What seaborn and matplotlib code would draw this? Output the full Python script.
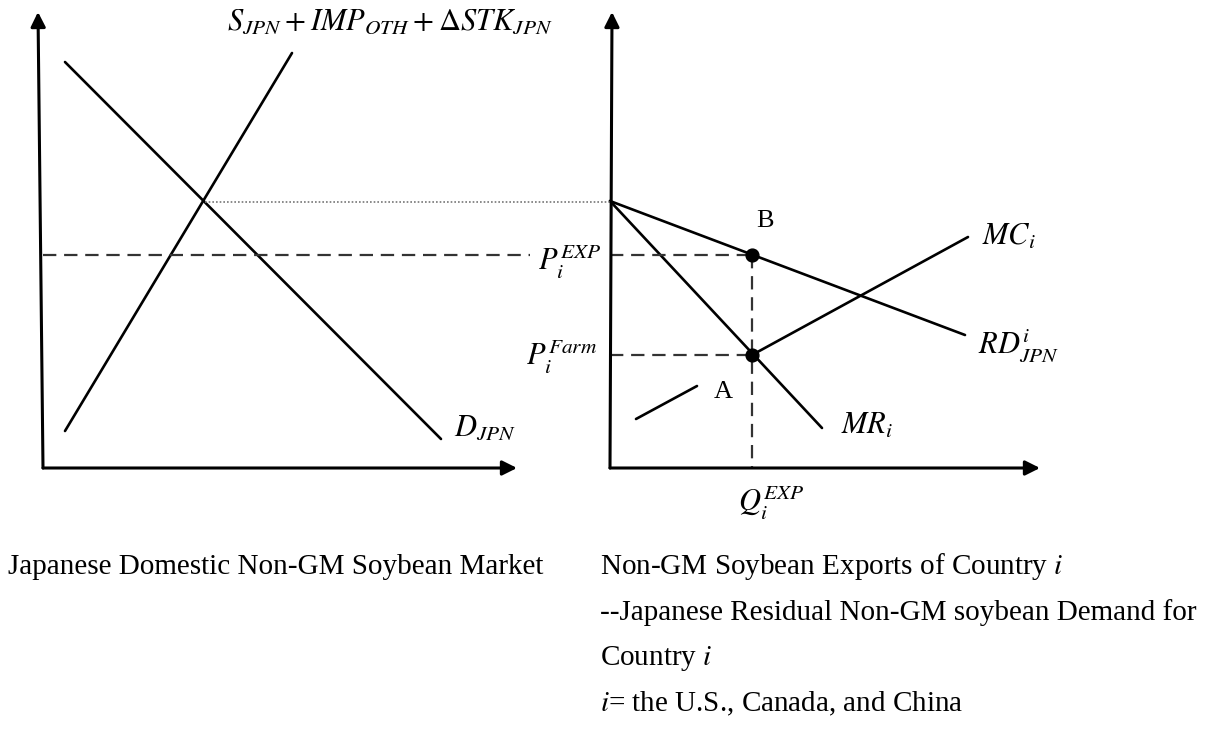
import matplotlib
matplotlib.use('Agg')
import matplotlib.pyplot as plt
import seaborn as sns

# diagram geometry (figure pixel space, y grows downward)
left_origin = (43, 468)
left_y_tip = (38, 12)
left_x_tip = (517, 468)
right_origin = (610, 468)
right_y_tip = (612, 12)
right_x_tip = (1040, 468)

demand_x = [65, 441]
demand_y = [62, 439]
supply_x = [65, 292]
supply_y = [431, 53]
rd_x = [610, 965]
rd_y = [201, 335]
mr_x = [610, 822]
mr_y = [201, 428]
mc_x = [752, 968]
mc_y = [355, 237]
pointer_x = [636, 697]
pointer_y = [419, 386]

eq_point = (205, 202)
p_exp = 255
p_farm = 355
q_exp = 752

labels = {
    'supply': r'$S_{JPN}+IMP_{OTH}+\Delta STK_{JPN}$',
    'demand': r'$D_{JPN}$',
    'mc': r'$MC_i$',
    'rd': r'$RD_{JPN}^{i}$',
    'mr': r'$MR_i$',
    'pexp': r'$P_i^{EXP}$',
    'pfarm': r'$P_i^{Farm}$',
    'qexp': r'$Q_i^{EXP}$',
}
left_caption = 'Japanese Domestic Non-GM Soybean Market'
right_caption = [
    r'Non-GM Soybean Exports of Country $i$',
    '--Japanese Residual Non-GM soybean Demand for',
    r'Country $i$',
    r'$i$= the U.S., Canada, and China',
]

sns.set_theme(style='white')
plt.rcParams['font.family'] = ['Liberation Serif', 'DejaVu Serif']
plt.rcParams['mathtext.fontset'] = 'stix'
plt.rcParams['text.color'] = 'black'

fig = plt.figure(figsize=(12.25, 7.45), dpi=100)
ax = fig.add_axes([0, 0, 1, 1])
ax.set_xlim(0, 1225)
ax.set_ylim(745, 0)
ax.axis('off')

# axes with arrows
for origin, tip in [(left_origin, left_y_tip), (left_origin, left_x_tip),
                    (right_origin, right_y_tip), (right_origin, right_x_tip)]:
    ax.annotate('', xy=tip, xytext=origin,
                arrowprops=dict(arrowstyle='-|>', color='black', lw=2.2,
                                mutation_scale=22, shrinkA=0, shrinkB=0))

# curves
for xs, ys in [(demand_x, demand_y), (supply_x, supply_y), (rd_x, rd_y),
               (mr_x, mr_y), (mc_x, mc_y), (pointer_x, pointer_y)]:
    sns.lineplot(x=xs, y=ys, ax=ax, color='black', lw=1.9, sort=False, estimator=None)

# guide lines
ax.plot([eq_point[0], right_origin[0]], [eq_point[1], eq_point[1]],
        color='#777777', lw=1.2, ls=(0, (1, 1.2)))
dash = (0, (6, 3.5))
dcol = '#333333'
ax.plot([left_origin[0], 530], [p_exp, p_exp], color=dcol, lw=1.6, ls=dash)
ax.plot([right_origin[0], q_exp], [p_exp, p_exp], color=dcol, lw=1.6, ls=dash)
ax.plot([right_origin[0], q_exp], [p_farm, p_farm], color=dcol, lw=1.6, ls=dash)
ax.plot([q_exp, q_exp], [p_exp, right_origin[1]], color=dcol, lw=1.6, ls=dash)
ax.scatter([q_exp, q_exp], [p_exp, p_farm], s=85, color='black', zorder=5)

# labels
fs = 22
ax.text(390, 22, labels['supply'], fontsize=fs, ha='center', va='center')
ax.text(485, 428, labels['demand'], fontsize=fs, ha='center', va='center')
ax.text(1009, 237, labels['mc'], fontsize=fs, ha='center', va='center')
ax.text(1019, 345, labels['rd'], fontsize=fs, ha='center', va='center')
ax.text(867, 426, labels['mr'], fontsize=fs, ha='center', va='center')
ax.text(601, 262, labels['pexp'], fontsize=fs, ha='right', va='center')
ax.text(597, 357, labels['pfarm'], fontsize=fs, ha='right', va='center')
ax.text(771, 503, labels['qexp'], fontsize=fs, ha='center', va='center')
ax.text(765, 221, 'B', fontsize=19, ha='center', va='center')
ax.text(723, 392, 'A', fontsize=19, ha='center', va='center')

cap_fs = 21
ax.text(8, 567, left_caption, fontsize=cap_fs, ha='left', va='center')
for i, line in enumerate(right_caption):
    ax.text(600, 567 + i * 45.7, line, fontsize=cap_fs, ha='left', va='center')

fig.savefig('out.png', dpi=100, facecolor='white')
